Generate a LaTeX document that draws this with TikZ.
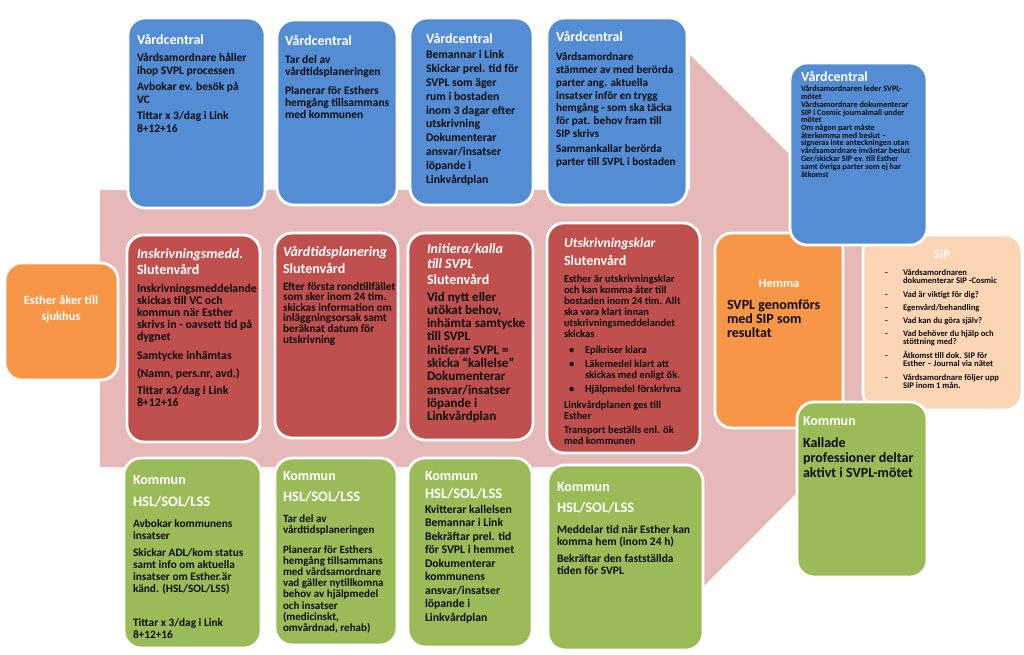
\documentclass[tikz,border=0pt]{standalone}
\usepackage{fontspec}
\setmainfont{Carlito}
\usepackage{tikz}

\definecolor{vcblue}{RGB}{84,141,212}
\definecolor{svred}{RGB}{192,80,77}
\definecolor{komgreen}{RGB}{155,187,89}
\definecolor{homeorange}{RGB}{247,150,70}
\definecolor{sippeach}{RGB}{252,213,181}
\definecolor{arrowpink}{RGB}{230,185,184}
\definecolor{ink}{RGB}{12,12,16}

\newcommand{\cardlines}[2][l]{\vtop{\let\\\cr\lineskiplimit=-\maxdimen\lineskip=0pt%
  \ifx c#1\halign{\hfil##\hfil\cr#2\crcr}\else\halign{##\hfil\cr#2\crcr}\fi}}

\begin{document}
\begin{tikzpicture}[x=1pt,y=-1pt,
  card/.style={draw=white,line width=2.8pt,rounded corners=17pt},
  hd/.style={inner sep=0pt,outer sep=0pt,anchor=base west,text=white,font=\bfseries\fontsize{#1}{#1}\selectfont},
  hd/.default=14,
  hdi/.style={hd=#1,font=\bfseries\itshape\fontsize{#1}{#1}\selectfont},
  hdi/.default=14,
  bd/.style args={#1/#2}{inner sep=0pt,outer sep=0pt,anchor=base west,text=ink,font=\bfseries\fontsize{#1}{#2}\selectfont}]
\path[use as bounding box] (0,0) rectangle (1024,655);
\path[fill=white] (0,0) rectangle (1024,655);
\path[fill=arrowpink] (100,190) -- (690,190) -- (690,55) -- (962,327) -- (690,600) -- (690,467) -- (100,467) -- cycle;

\path[card,fill=vcblue] (128,18) rectangle (265,208);
\node[hd] (vcAhd) at (137,45) {Vårdcentral};
\node[bd=11.5/13] (vcAp1) at (137,62) {\cardlines{Vårdsamordnare håller\\ihop SVPL processen}};
\node[bd=11.5/13] (vcAp2) at (137,91) {\cardlines{Avbokar ev. besök på\\VC}};
\node[bd=11.5/13] (vcAp3) at (137,120) {\cardlines{Tittar x 3/dag i Link\\8+12+16}};

\path[card,fill=vcblue] (277,20) rectangle (397,205);
\node[hd] (vcBhd) at (285,46) {Vårdcentral};
\node[bd=11.5/12] (vcBp1) at (285,64) {\cardlines{Tar del av\\vårdtidsplaneringen}};
\node[bd=11.5/12] (vcBp2) at (285,95) {\cardlines{Planerar för Esthers\\hemgång tillsammans\\med kommunen}};

\path[card,fill=vcblue] (410,18) rectangle (533,205);
\node[hd] (vcChd) at (426,44) {Vårdcentral};
\node[bd=11.7/13.8] (vcCp1) at (426,59) {\cardlines{Bemannar i Link\\Skickar prel. tid för\\SVPL  som äger\\rum i bostaden\\inom 3 dagar efter\\utskrivning\\Dokumenterar\\ansvar/insatser\\löpande i\\Linkvårdplan}};

\path[card,fill=vcblue] (547,18) rectangle (687,205);
\node[hd] (vcDhd) at (556,42) {Vårdcentral};
\node[bd=11.2/12.7] (vcDp1) at (556,61) {\cardlines{Vårdsamordnare\\stämmer av med berörda\\parter ang. aktuella\\insatser inför en trygg\\hemgång - som ska täcka\\för pat. behov fram till\\SIP skrivs}};
\node[bd=11.2/12.7] (vcDp2) at (556,153) {\cardlines{Sammankallar berörda\\parter till SVPL i bostaden}};

\path[card,fill=homeorange] (5,263) rectangle (118,380);
\node[hd=12.5,anchor=base,font=\bfseries\fontsize{12.5}{16}\selectfont] (esther) at (61,304) {\cardlines[c]{Esther åker till\\sjukhus}};

\path[card,fill=svred] (127,235) rectangle (260,442);
\node[hdi] (inskHd) at (137,258) {Inskrivningsmedd.};
\node[hd] (inskSv) at (137,274) {Slutenvård};
\node[bd=11.8/12] (inskP1) at (137,292) {\cardlines{Inskrivningsmeddelande\\skickas till VC och\\kommun  när Esther\\skrivs in - oavsett tid på\\dygnet}};
\node[bd=11.8/12] (inskP2) at (137,359) {Samtycke inhämtas};
\node[bd=11.8/12] (inskP3) at (137,377) {(Namn, pers.nr, avd.)};
\node[bd=11.8/12] (inskP4) at (137,394) {\cardlines{Tittar x3/dag i Link\\8+12+16}};

\path[card,fill=svred] (275,233) rectangle (398,438);
\node[hdi] (vtpHd) at (283,256) {Vårdtidsplanering};
\node[hd] (vtpSv) at (283,273) {Slutenvård};
\node[bd=11.3/10.6] (vtpP1) at (283,290) {\cardlines{Efter första rondtillfället\\som sker inom 24 tim.\\skickas information om\\inläggningsorsak samt\\beräknat datum för\\utskrivning}};

\path[card,fill=svred] (408,233) rectangle (533,440);
\node[hdi,font=\bfseries\itshape\fontsize{14}{15.5}\selectfont] (initHd) at (427,253) {\cardlines{Initiera/kalla\\till SVPL}};
\node[hd] (initSv) at (427,284) {Slutenvård};
\node[bd=13/13.3] (initP1) at (427,301) {\cardlines{Vid nytt eller\\utökat behov,\\inhämta samtycke\\till SVPL\\Initierar SVPL =\\skicka “kallelse”\\Dokumenterar\\ansvar/insatser\\löpande i\\Linkvårdplan}};

\path[card,fill=svred] (547,223) rectangle (700,453);
\node[hdi=13.5] (utskHd) at (564,247) {Utskrivningsklar};
\node[hd] (utskSv) at (564,265) {Slutenvård};
\node[bd=10.5/11] (utskP1) at (564,282) {\cardlines{Esther är utskrivningsklar\\och kan komma åter till\\bostaden inom 24  tim. Allt\\ska vara klart innan\\utskrivningsmeddelandet\\skickas}};
\node[bd=10.5/11] (utskB1) at (569,353) {•};
\node[bd=10.5/11] (utskL1) at (585,353) {Epikriser klara};
\node[bd=10.5/11] (utskB2) at (569,367) {•};
\node[bd=10.5/11] (utskL2) at (585,367) {\cardlines{Läkemedel klart att\\skickas med enligt ök.}};
\node[bd=10.5/11] (utskB3) at (569,392) {•};
\node[bd=10.5/11] (utskL3) at (585,392) {Hjälpmedel  förskrivna};
\node[bd=10.5/11] (utskP2) at (564,408) {\cardlines{Linkvårdplanen ges till\\Esther}};
\node[bd=10.5/11] (utskP3) at (564,433) {\cardlines{Transport beställs enl. ök\\med kommunen}};

\path[card,fill=homeorange] (715,233) rectangle (843,428);
\node[hd=12.5,anchor=base] (hemHd) at (779,287) {Hemma};
\node[bd=14/14.2] (hemP1) at (727,309) {\cardlines{SVPL genomförs\\med SIP som\\resultat}};

\path[card,fill=sippeach] (863,235) rectangle (1022,410);
\node[hd=12.5,anchor=base] (sipHd) at (942,258) {SIP};
\node[bd=8.6/8.3] (sipD1) at (885,275) {-};
\node[bd=8.6/8.3] (sipL1) at (903,275) {\cardlines{Vårdsamordnaren\\dokumenterar SIP -Cosmic}};
\node[bd=8.6/8.3] (sipD2) at (885,297) {-};
\node[bd=8.6/8.3] (sipL2) at (903,297) {Vad är viktigt för dig?};
\node[bd=8.6/8.3] (sipD3) at (885,310) {-};
\node[bd=8.6/8.3] (sipL3) at (903,310) {Egenvård/behandling};
\node[bd=8.6/8.3] (sipD4) at (885,323) {-};
\node[bd=8.6/8.3] (sipL4) at (903,323) {Vad  kan du göra själv?};
\node[bd=8.6/8.3] (sipD5) at (885,336) {-};
\node[bd=8.6/8.3] (sipL5) at (903,336) {\cardlines{Vad behöver du hjälp och\\stöttning med?}};
\node[bd=8.6/8.3] (sipD6) at (885,358) {-};
\node[bd=8.6/8.3] (sipL6) at (903,358) {\cardlines{Åtkomst till  dok. SIP för\\Esther – Journal via nätet}};
\node[bd=8.6/8.3] (sipD7) at (885,380) {-};
\node[bd=8.6/8.3] (sipL7) at (903,380) {\cardlines{Vårdsamordnare följer upp\\SIP inom 1 mån.}};

\path[card,fill=vcblue] (790,63) rectangle (927,245);
\node[hd] (vcEhd) at (801,82) {Vårdcentral};
\node[bd=8.2/7.5] (vcEp1) at (801,92) {\cardlines{Vårdsamordnaren leder SVPL-\\mötet}};
\node[bd=8.2/7.5] (vcEp2) at (801,108) {\cardlines{Vårdsamordnare dokumenterar\\SIP i Cosmic  journalmall under\\mötet}};
\node[bd=8.2/7.5] (vcEp3) at (801,131) {\cardlines{Om någon part måste\\återkomma med beslut –\\signeras inte anteckningen utan\\vårdsamordnare inväntar beslut}};
\node[bd=8.2/7.5] (vcEp4) at (801,162) {\cardlines{Ger/skickar SIP ev. till Esther\\samt övriga parter som ej har\\åtkomst}};

\path[card,fill=komgreen] (124,458) rectangle (261,648);
\node[hd] (komAhd) at (133,484) {Kommun};
\node[hd=14.5] (komAlag) at (133,506) {HSL/SOL/LSS};
\node[bd=11.3/12] (komAp1) at (133,527) {\cardlines{Avbokar kommunens\\insatser}};
\node[bd=11.3/12] (komAp2) at (133,556) {\cardlines{Skickar ADL/kom status\\samt info om aktuella\\insatser om Esther.är\\känd.  (HSL/SOL/LSS)}};
\node[bd=11.3/12] (komAp3) at (133,626) {\cardlines{Tittar x 3/dag i Link\\8+12+16}};

\path[card,fill=komgreen] (275,458) rectangle (397,645);
\node[hd] (komBhd) at (283,480) {Kommun};
\node[hd=14.5] (komBlag) at (283,501) {HSL/SOL/LSS};
\node[bd=11/11.2] (komBp1) at (283,522) {\cardlines{Tar del av\\vårdtidsplaneringen}};
\node[bd=11/11.2] (komBp2) at (283,553) {\cardlines{Planerar för Esthers\\hemgång tillsammans\\med vårdsamordnare\\vad gäller nytillkomna\\behov av hjälpmedel\\och insatser\\(medicinskt,\\omvårdnad, rehab)}};

\path[card,fill=komgreen] (408,458) rectangle (532,647);
\node[hd] (komChd) at (425,480) {Kommun};
\node[hd=14.5] (komClag) at (425,498) {HSL/SOL/LSS};
\node[bd=11.7/13.5] (komCp1) at (425,513) {\cardlines{Kvitterar kallelsen\\Bemannar i Link\\Bekräftar prel. tid\\för SVPL i hemmet\\Dokumenterar\\kommunens\\ansvar/insatser\\löpande i\\Linkvårdplan}};

\path[card,fill=komgreen] (548,465) rectangle (703,650);
\node[hd] (komDhd) at (557,491) {Kommun};
\node[hd=14.5] (komDlag) at (557,512) {HSL/SOL/LSS};
\node[bd=11.5/12] (komDp1) at (557,533) {\cardlines{Meddelar tid när Esther kan\\komma hem (inom 24 h)}};
\node[bd=11.5/12] (komDp2) at (557,562) {\cardlines{Bekräftar den fastställda\\tiden för SVPL}};

\path[card,fill=komgreen] (797,402) rectangle (927,577);
\node[hd] (komEhd) at (803,425) {Kommun};
\node[bd=14/15] (komEp1) at (803,447) {\cardlines{Kallade\\professioner deltar\\aktivt i SVPL-mötet}};
\end{tikzpicture}
\end{document}
